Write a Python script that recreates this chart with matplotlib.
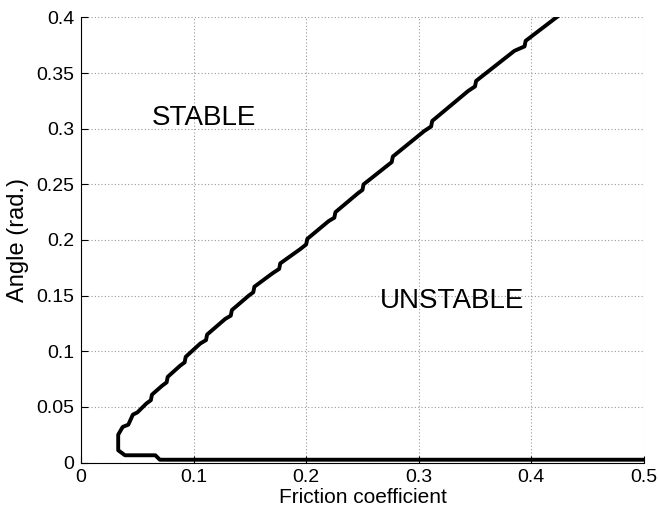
import numpy as np
import matplotlib
matplotlib.use('Agg')
import matplotlib.pyplot as plt

plt.rcParams['font.family'] = ['Liberation Sans', 'DejaVu Sans']

# Stabilitaetsgrenze, Reibungskoeffizient gegen Winkel
mu = [0.5, 0.070, 0.066, 0.039, 0.033, 0.033, 0.037, 0.042, 0.046, 0.050,
      0.058, 0.062, 0.063, 0.072, 0.076, 0.077, 0.088, 0.092, 0.093, 0.106,
      0.111, 0.112, 0.128, 0.133, 0.134, 0.149, 0.153, 0.154, 0.170, 0.176,
      0.177, 0.195, 0.200, 0.201, 0.220, 0.225, 0.226, 0.246, 0.250, 0.251,
      0.271, 0.276, 0.277, 0.305, 0.311, 0.312, 0.344, 0.350, 0.351, 0.385,
      0.394, 0.395, 0.430]
angle = [0.0025, 0.0025, 0.0065, 0.0065, 0.011, 0.025, 0.032, 0.034, 0.043, 0.045,
         0.053, 0.056, 0.061, 0.069, 0.072, 0.077, 0.087, 0.090, 0.095, 0.107,
         0.110, 0.115, 0.129, 0.132, 0.137, 0.150, 0.153, 0.158, 0.170, 0.174,
         0.179, 0.192, 0.196, 0.201, 0.217, 0.220, 0.225, 0.242, 0.245, 0.250,
         0.266, 0.270, 0.275, 0.298, 0.302, 0.307, 0.334, 0.338, 0.343, 0.370,
         0.374, 0.379, 0.406]

xticks = [0, 0.1, 0.2, 0.3, 0.4, 0.5]
xticklabels = ['0', '0.1', '0.2', '0.3', '0.4', '0.5']
yticks = [0, 0.05, 0.1, 0.15, 0.2, 0.25, 0.3, 0.35, 0.4]
yticklabels = ['0', '0.05', '0.1', '0.15', '0.2', '0.25', '0.3', '0.35', '0.4']

fig = plt.figure(figsize=(6.59, 5.17), dpi=100)
ax = fig.add_axes([0.123, 0.1054, 0.854, 0.8608])

ax.plot(mu, angle, 'k-', lw=2.8, clip_on=True)

ax.set_xlim(0, 0.5)
ax.set_ylim(0, 0.4)
ax.set_xticks(xticks)
ax.set_xticklabels(xticklabels)
ax.set_yticks(yticks)
ax.set_yticklabels(yticklabels)
ax.tick_params(direction='in', length=5, width=0.8, labelsize=14, pad=5)

ax.grid(True, color='#999999', linestyle=(0, (1, 2)), lw=0.8)
ax.spines['top'].set_visible(False)
ax.spines['right'].set_visible(False)

ax.set_xlabel('Friction coefficient', fontsize=15, labelpad=1)
ax.set_ylabel('Angle (rad.)', fontsize=17, labelpad=5)

ax.text(0.063, 0.3035, 'STABLE', fontsize=20, ha='left', va='baseline')
ax.text(0.394, 0.139, 'UNSTABLE', fontsize=20, ha='right', va='baseline')

plt.savefig('out.png', dpi=100)
